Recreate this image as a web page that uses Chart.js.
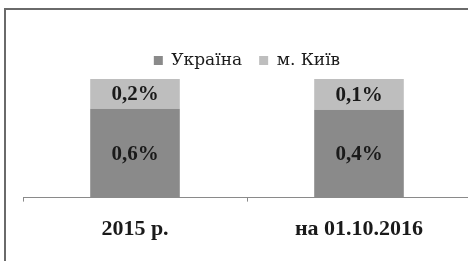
<!DOCTYPE html>
<html><head><meta charset="utf-8">
<script src="https://cdn.jsdelivr.net/npm/chart.js@4/dist/chart.umd.min.js"></script>
<style>
html,body{margin:0;padding:0;background:#fff;overflow:hidden;width:468px;height:261px}
#frame{position:absolute;left:4px;top:8px;width:700px;height:500px;border-left:2px solid #6a6a6a;border-top:2px solid #6a6a6a;box-sizing:border-box}
#wrap{position:absolute;left:0;top:0;width:490px;height:261px}
</style></head><body>
<div id="frame"></div>
<div id="wrap"><canvas id="c" width="490" height="261"></canvas></div>
<script>
// Categories and series (values in %, as labelled; bars are shown as a 100% stacked column)
const categories = ['2015 р.', 'на 01.10.2016'];
const seriesNames = ['Україна', 'м. Київ'];
const ukraineValues = [0.6, 0.4];
const kyivValues = [0.2, 0.14];
const seriesColors = ['#8a8a8a', '#bebebe'];

const rawSeries = [ukraineValues, kyivValues];
const totals = categories.map((_, i) => rawSeries.reduce((s, arr) => s + arr[i], 0));
const fmt = v => v.toFixed(1).replace('.', ',') + '%';

const valueLabels = {
  id: 'valueLabels',
  afterDatasetsDraw(chart) {
    const ctx = chart.ctx;
    ctx.save();
    ctx.font = 'bold 21px "Liberation Serif"';
    ctx.fillStyle = '#1a1a1a';
    ctx.textAlign = 'center';
    ctx.textBaseline = 'middle';
    chart.data.datasets.forEach((ds, di) => {
      chart.getDatasetMeta(di).data.forEach((bar, i) => {
        const p = bar.getCenterPoint();
        ctx.fillText(fmt(rawSeries[di][i]), p.x, p.y + 1);
      });
    });
    ctx.restore();
  }
};

new Chart(document.getElementById('c'), {
  type: 'bar',
  data: {
    labels: categories,
    datasets: rawSeries.map((arr, di) => ({
      label: seriesNames[di],
      data: arr.map((v, i) => v / totals[i] * 100),
      backgroundColor: seriesColors[di],
      borderWidth: 0,
      barPercentage: 1,
      categoryPercentage: 0.4
    }))
  },
  options: {
    responsive: false,
    animation: false,
    devicePixelRatio: 1,
    layout: { padding: { left: 23, right: 19, top: 35, bottom: 3 } },
    plugins: {
      tooltip: { enabled: false },
      legend: {
        position: 'top',
        labels: {
          font: { family: '"DejaVu Serif"', size: 17 },
          color: '#1a1a1a',
          boxWidth: 9,
          boxHeight: 9,
          padding: 17
        }
      }
    },
    scales: {
      x: {
        stacked: true,
        offset: true,
        grid: { display: true, offset: true, drawOnChartArea: false, drawTicks: true, tickLength: 4, color: '#8a8a8a', lineWidth: 1 },
        border: { display: true, color: '#8a8a8a', width: 1 },
        ticks: { font: { family: '"Liberation Serif"', size: 22, weight: 'bold' }, color: '#1a1a1a', padding: 15 }
      },
      y: { stacked: true, display: false, min: 0, max: 100 }
    }
  },
  plugins: [valueLabels]
});
</script>
</body></html>
